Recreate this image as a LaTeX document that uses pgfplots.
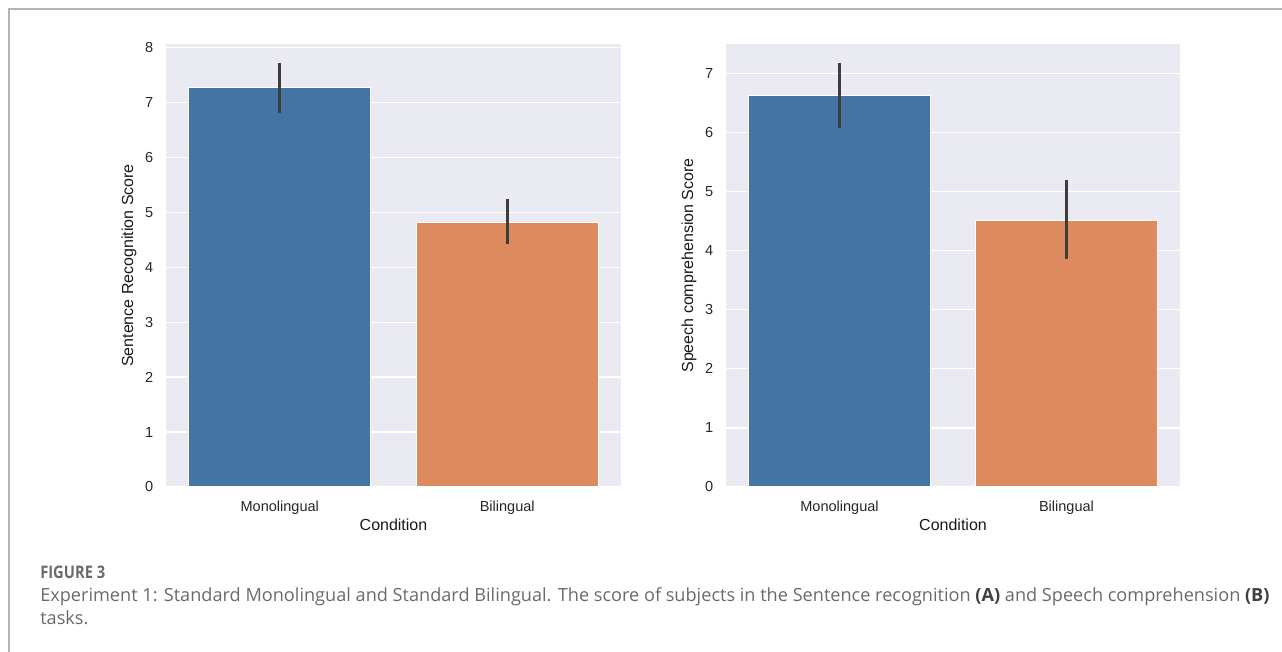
\documentclass[border=0pt]{standalone}
\usepackage{fontspec}
\setmainfont{Liberation Sans}
\newfontfamily\capfont{Open Sans}
\newfontfamily\figfont[FakeStretch=0.85]{Open Sans}
\usepackage{pgfplots}
\pgfplotsset{compat=1.18}
\definecolor{sbbg}{HTML}{EAEAF2}
\definecolor{sbblue}{HTML}{4374A3}
\definecolor{sborange}{HTML}{DD8A5E}
\definecolor{errc}{HTML}{3D3D3D}
\definecolor{capgray}{HTML}{6A6A6A}
\definecolor{bordergray}{HTML}{B4B4B4}

\pgfplotstableread{
x y plus minus
0 7.26 0.45 0.46
}\leftmono
\pgfplotstableread{
x y plus minus
1 4.82 0.42 0.40
}\leftbi
\pgfplotstableread{
x y plus minus
0 6.63 0.54 0.55
}\rightmono
\pgfplotstableread{
x y plus minus
1 4.52 0.68 0.66
}\rightbi

\pgfplotsset{
  sb/.style={
    scale only axis,
    height=332.25pt,
    axis background/.style={fill=sbbg},
    axis line style={draw=none},
    ymajorgrids=true,
    xmajorgrids=false,
    major grid style={white, line width=0.9pt},
    tick style={draw=none},
    ymin=0,
    xmin=-0.5, xmax=1.5,
    xtick={0,1},
    xticklabels={Monolingual,Bilingual},
    ticklabel style={font=\fontsize{10.9}{13}\selectfont, text=black!85},
    /pgf/number format/assume math mode=true,
    yticklabel style={xshift=-6pt},
    xticklabel style={anchor=base, yshift=-18.5pt},
    xlabel={Condition},
    xlabel style={at={(axis description cs:0.5,0)}, anchor=base, yshift=-32.5pt, font=\fontsize{12}{14}\selectfont, text=black!90},
    ylabel style={at={(axis description cs:-0.0815,0.5)}, anchor=center, font=\fontsize{12}{14}\selectfont, text=black!90},
    clip=false,
  },
  sbbar/.style={
    ybar, bar width=0.8, bar shift=0pt,
    draw=white, line width=0.75pt,
    error bars/y dir=both, error bars/y explicit, error bars/error mark=none,
    error bars/error bar style={errc, line width=2.3pt},
  },
}

\begin{document}
\begin{tikzpicture}[x=0.75pt,y=0.75pt]
\path[use as bounding box] (0,0) rectangle (1282,652);
\draw[bordergray, line width=0.9pt] (9,0) -- (9,643) -- (1282,643);

\begin{axis}[sb, at={(124.5pt,123.75pt)}, anchor=south west, width=341.25pt,
  ymax=8.06, ytick={0,1,...,8}, ylabel={Sentence Recognition Score}]
\addplot[sbbar, fill=sbblue] table[x=x, y=y, y error plus=plus, y error minus=minus] {\leftmono};
\addplot[sbbar, fill=sborange] table[x=x, y=y, y error plus=plus, y error minus=minus] {\leftbi};
\end{axis}

\begin{axis}[sb, at={(544.5pt,123.75pt)}, anchor=south west, width=340.5pt,
  ymax=7.5, ytick={0,1,...,7}, ylabel={Speech comprehension Score}]
\addplot[sbbar, fill=sbblue] table[x=x, y=y, y error plus=plus, y error minus=minus] {\rightmono};
\addplot[sbbar, fill=sborange] table[x=x, y=y, y error plus=plus, y error minus=minus] {\rightbi};
\end{axis}

\node[anchor=base west, inner sep=0pt, text=capgray, font=\figfont\bfseries\fontsize{13}{16}\selectfont] at (40,73) {FIGURE 3};
\node[anchor=base west, inner sep=0pt, text=capgray, font=\capfont\fontsize{13.6}{16}\selectfont] at (40,50) {Experiment 1: Standard Monolingual and Standard Bilingual. The score of subjects in the Sentence recognition {\bfseries\color{black!75}(A)} and Speech comprehension {\bfseries\color{black!75}(B)}};
\node[anchor=base west, inner sep=0pt, text=capgray, font=\capfont\fontsize{13.6}{16}\selectfont] at (40,27) {tasks.};
\end{tikzpicture}
\end{document}
